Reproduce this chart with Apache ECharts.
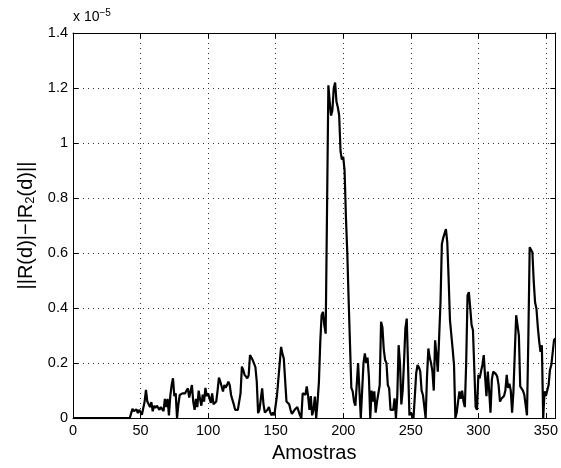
<!DOCTYPE html>
<html>
<head>
<meta charset="utf-8">
<script src="https://cdn.jsdelivr.net/npm/echarts@6/dist/echarts.min.js"></script>
<style>html,body{margin:0;padding:0;background:#fff;}#chart{width:561px;height:468px;}</style>
</head>
<body>
<div id="chart"></div>
<script>
// values in units of 1e-5, one per sample (sample index = array position)
var amplitude = [
0,0,0,0,0,0,0,0,0,0,0,0,0,0,0,0,0,0,0,0,0,0,0,0,0,0,0,0,0,0,0,0,0,0,0,0,0,0,0,0,0,0,0,
0,
0.034,0.025,0.03,0.032,0.018,0.03,0.036,0.012,0.018,0.06,0.103,0.06,0.063,0.04,
0.058,0.025,0.045,0.037,0.045,0.048,0.03,0.04,0.043,0.025,0.07,0.04,0.07,0.01,
0.08,0.12,0.145,0.08,0.09,0,0.05,0.084,0.08,0.09,0.085,0.09,0.1,0.108,
0.075,0.08,0.12,0.06,0.03,0.07,0.04,0.1,0.07,0.045,0.085,0.06,0.11,0.08,
0.09,0.085,0.055,0.09,0.05,0.045,0.06,0.1,0.147,0.133,0.14,0.097,0.12,0.11,
0.12,0.133,0.12,0.084,0.066,0.05,0.03,0.024,0.03,0.034,0.09,0.187,0.175,0.157,
0.15,0.145,0.155,0.229,0.22,0.211,0.205,0.185,0.133,0.018,0.03,0.07,0.108,0.05,
0.02,0.015,0.03,0.04,0.02,0.01,0.02,0.01,0.01,0.084,0.09,0.2,0.259,0.235,
0.217,0.21,0.06,0.055,0.05,0.03,0.015,0.02,0.03,0.036,0.04,0.042,0.01,0,
0.09,0.095,0.085,0.115,0.08,0.03,0.08,0.01,0.03,0.078,0,0.06,0.13,0.277,
0.374,0.386,0.338,0.307,0.75,1.21,1.15,1.1,1.12,1.2,1.22,1.15,1.13,1.1,
0.97,0.94,0.95,0.9,0.73,0.6,0.43,0.27,0.11,0.097,0.06,0.045,0.048,0.2,
0.1,0,0.1,0.2,0.235,0.2,0.22,0.15,0,0.1,0.06,0.097,0.02,0.06,
0.066,0.12,0.35,0.33,0.25,0.211,0.2,0.12,0.108,0.03,0.024,0.03,0.072,0,
0.078,0.265,0.2,0.05,0.1,0.205,0.326,0.362,0.362,0.01,0.02,0.01,0,0.08,
0.163,0.193,0.185,0.17,0.1,0.084,0.09,0,0.15,0.253,0.22,0.2,0.17,0.1,
0.283,0.23,0.169,0.296,0.422,0.633,0.655,0.651,0.687,0.639,0.507,0.356,0.35,0.25,
0.193,0,0.02,0.06,0.097,0.07,0.1,0.06,0.04,0.2,0.446,0.458,0.4,0.338,
0.32,0.314,0.04,0.03,0.157,0.145,0.17,0.193,0.229,0.15,0.08,0.169,0.1,0.02,
0.14,0.169,0.165,0.16,0.15,0.12,0.06,0.07,0.075,0.08,0.1,0.157,0.11,0.125,
0.1,0.02,0.1,0.241,0.374,0.374,0.3,0.115,0.11,0.1,0.085,0.078,0.01,0.29,
0.621,0.615,0.603,0.495,0.42,0.398,0.332,0.28,0.241,0.265,0,0.097,0.08,0.1,
0.12,0.175,0.193,0.19,0.283,0.29
];
var xTicks = [0, 50, 100, 150, 200, 250, 300, 350];
var yTicks = [0, 0.2, 0.4, 0.6, 0.8, 1, 1.2, 1.4];
var xName = 'Amostras';
var yName = '||R(d)|\u2212|R{sub|2}(d)||';
var yExponent = 'x 10{sup|\u22125}';

var seriesData = amplitude.map(function (v, i) { return [i, v]; });
var xMax = amplitude.length - 1;

var font = 'Liberation Sans, Arial, Helvetica, sans-serif';
var chart = echarts.init(document.getElementById('chart'), null, {renderer: 'canvas'});

var gridLine = {show: true, lineStyle: {color: '#333', width: 1, type: [1, 4]}};
var tickIn = {show: true, inside: true, length: 5, lineStyle: {color: '#000', width: 1}};
var line = {show: true, onZero: false, lineStyle: {color: '#000', width: 1}};

chart.setOption({
  animation: false,
  backgroundColor: '#fff',
  grid: {left: 73, right: 2, top: 33, bottom: 48.5, containLabel: false},
  graphic: [{
    type: 'text', left: 73, top: 8,
    style: {
      text: yExponent, fontFamily: font, fontSize: 14, fill: '#000',
      rich: {sup: {fontSize: 10, verticalAlign: 'top', padding: [0, 0, 8, 0], fontFamily: font, fill: '#000'}}
    }
  }],
  xAxis: [{
    type: 'value', min: 0, max: xMax, interval: 50, position: 'bottom',
    axisLine: line, axisTick: tickIn, splitLine: gridLine,
    axisLabel: {
      color: '#000', fontFamily: font, fontSize: 14.5, margin: 5, showMaxLabel: false,
      formatter: function (v) { return xTicks.indexOf(v) >= 0 ? String(v) : ''; }
    },
    name: xName, nameLocation: 'middle', nameGap: 23,
    nameTextStyle: {color: '#000', fontFamily: font, fontSize: 20}
  }, {
    type: 'value', min: 0, max: xMax, interval: 50, position: 'top',
    axisLine: line, axisTick: tickIn, splitLine: {show: false}, axisLabel: {show: false}
  }],
  yAxis: [{
    type: 'value', min: 0, max: 1.4, interval: 0.2, position: 'left',
    axisLine: line, axisTick: tickIn, splitLine: gridLine,
    axisLabel: {
      color: '#000', fontFamily: font, fontSize: 14.5, margin: 5,
      formatter: function (v) {
        var r = Math.round(v * 10) / 10;
        return yTicks.indexOf(r) >= 0 ? String(r) : '';
      }
    },
    name: yName, nameLocation: 'middle', nameGap: 34, nameRotate: 90,
    nameTextStyle: {
      color: '#000', fontFamily: font, fontSize: 20,
      rich: {sub: {fontSize: 13, verticalAlign: 'bottom', padding: [7, 0, 0, 0], fontFamily: font, color: '#000'}}
    }
  }, {
    type: 'value', min: 0, max: 1.4, interval: 0.2, position: 'right',
    axisLine: line, axisTick: tickIn, splitLine: {show: false}, axisLabel: {show: false}
  }],
  series: [{
    type: 'line', xAxisIndex: 0, yAxisIndex: 0,
    data: seriesData, showSymbol: false, symbol: 'none',
    lineStyle: {color: '#000', width: 2.2}, clip: true
  }]
});
</script>
</body>
</html>
